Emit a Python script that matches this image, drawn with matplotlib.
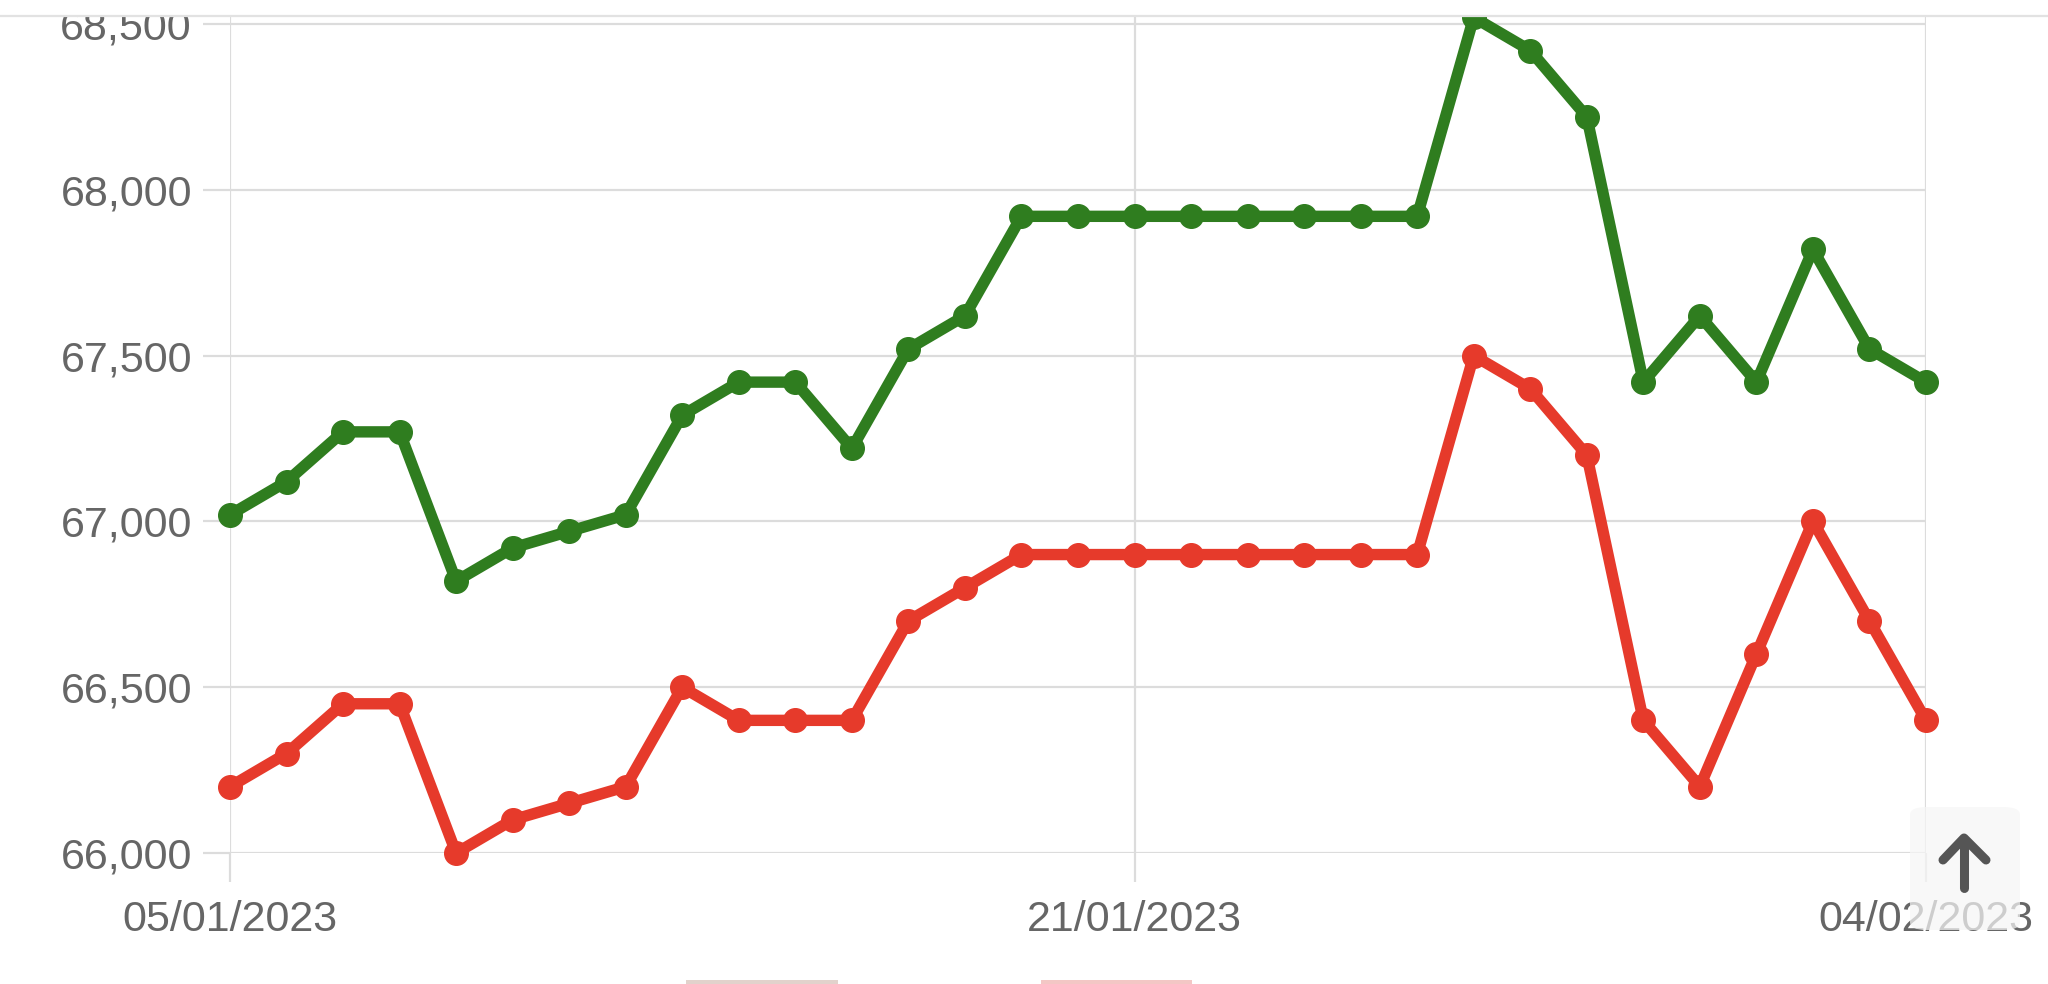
import matplotlib
matplotlib.use("Agg")
import matplotlib.pyplot as plt
import matplotlib.dates as mdates
from matplotlib.patches import FancyBboxPatch, Rectangle
from matplotlib.lines import Line2D
from matplotlib.ticker import FuncFormatter
import pandas as pd

# ---- data -------------------------------------------------------------
dates = pd.date_range("2023-01-05", "2023-02-04", freq="D")
sell_price = [67020, 67120, 67270, 67270, 66820, 66920, 66970, 67020, 67320, 67420,
              67420, 67220, 67520, 67620, 67920, 67920, 67920, 67920, 67920, 67920,
              67920, 67920, 68520, 68420, 68220, 67420, 67620, 67420, 67820, 67520,
              67420]
buy_price = [66200, 66300, 66450, 66450, 66000, 66100, 66150, 66200, 66500, 66400,
             66400, 66400, 66700, 66800, 66900, 66900, 66900, 66900, 66900, 66900,
             66900, 66900, 67500, 67400, 67200, 66400, 66200, 66600, 67000, 66700,
             66400]
y_ticks = [66000, 66500, 67000, 67500, 68000, 68500]
x_ticks = ["2023-01-05", "2023-01-21", "2023-02-04"]

GREEN = "#2f7d1f"
RED = "#e63a2b"
GRID = "#dcdcdc"
LABEL = "#666666"

W, H = 2048, 984
plt.rcParams["font.family"] = ["Liberation Sans", "DejaVu Sans"]
fig = plt.figure(figsize=(W / 100, H / 100), dpi=100)


def fx(px):
    return px / W


def fy(py):
    return 1 - py / H


left, right, top, bottom = 230, 1926, 16, 853
ax = fig.add_axes([fx(left), fy(bottom), fx(right - left), (bottom - top) / H])

ax.plot(dates, sell_price, color=GREEN, lw=8.2, marker="o", ms=17,
        solid_joinstyle="round", solid_capstyle="round", clip_on=False, zorder=3)
ax.plot(dates, buy_price, color=RED, lw=8.2, marker="o", ms=17,
        solid_joinstyle="round", solid_capstyle="round", clip_on=False, zorder=3)

px_per_unit = (853 - 24) / 2500
ax.set_ylim(66000, 68500 + (24 - 16) / px_per_unit)
ax.set_xlim(pd.Timestamp(dates[0]), pd.Timestamp(dates[-1]))

ax.set_yticks(y_ticks)
ax.yaxis.set_major_formatter(FuncFormatter(lambda v, p: f"{v:,.0f}"))
ax.set_xticks([pd.Timestamp(d) for d in x_ticks])
ax.xaxis.set_major_formatter(mdates.DateFormatter("%d/%m/%Y"))

for s in ax.spines.values():
    s.set_visible(False)
ax.grid(True, color=GRID, lw=1.6)
ax.set_axisbelow(True)
ax.tick_params(axis="y", length=19.4, width=1.6, color=GRID, pad=8,
               labelsize=31, labelcolor=LABEL)
ax.tick_params(axis="x", length=20.9, width=1.6, color=GRID, pad=13,
               labelsize=31, labelcolor=LABEL)

# page header cover + separator at the top
fig.patches.append(Rectangle((0, fy(top)), 1, 1 - fy(top), transform=fig.transFigure,
                             facecolor="white", edgecolor="none", zorder=20))
fig.lines.append(Line2D([0, 1], [fy(top), fy(top)], transform=fig.transFigure,
                        color="#e2e2e2", lw=1.6, zorder=21))

# scroll-to-top button
bx0, bx1, by0, by1 = 1910, 2020, 807, 930
fig.patches.append(FancyBboxPatch((fx(bx0), fy(by1)), fx(bx1 - bx0), (by1 - by0) / H,
                                  boxstyle="round,pad=0,rounding_size=0.008",
                                  transform=fig.transFigure, facecolor=(0.965, 0.965, 0.965, 0.72),
                                  edgecolor="none", zorder=22))
fig.lines.append(Line2D([fx(1964), fx(1964)], [fy(888), fy(840)], transform=fig.transFigure,
                        color="#555555", lw=6.5, solid_capstyle="round", zorder=23))
fig.lines.append(Line2D([fx(1943), fx(1964), fx(1986)], [fy(860), fy(838), fy(860)],
                        transform=fig.transFigure, color="#555555", lw=6.5,
                        solid_capstyle="round", solid_joinstyle="round", zorder=23))

# cut-off legend boxes at the bottom edge
fig.patches.append(Rectangle((fx(686), 0), fx(838 - 686), 4 / H, transform=fig.transFigure,
                             facecolor="#e2d2cc", edgecolor="none", zorder=20))
fig.patches.append(Rectangle((fx(1041), 0), fx(1192 - 1041), 4 / H, transform=fig.transFigure,
                             facecolor="#f3c7c5", edgecolor="none", zorder=20))

fig.savefig("out.png", dpi=100, facecolor="white")
